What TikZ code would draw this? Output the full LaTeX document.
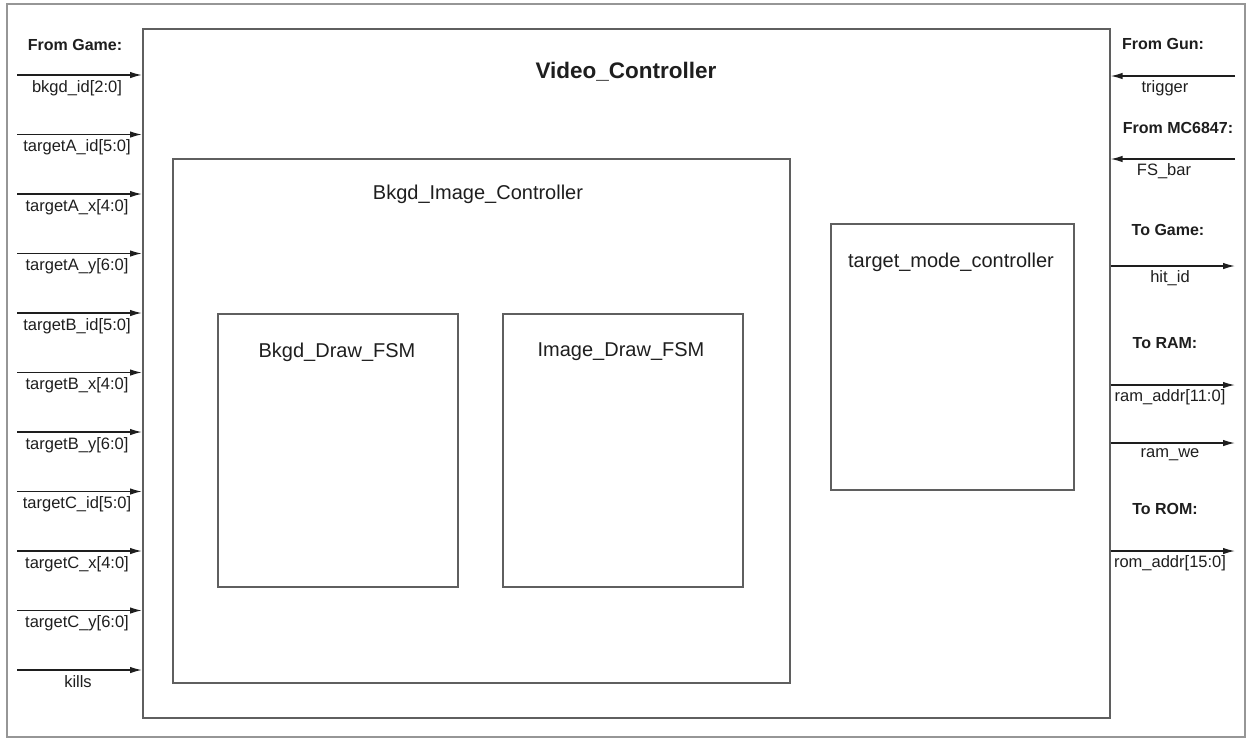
\documentclass[tikz,border=0pt]{standalone}
\usepackage{fontspec}
\setmainfont{Liberation Sans}
\usetikzlibrary{arrows.meta}

\definecolor{framegray}{RGB}{150,150,150}
\definecolor{boxgray}{RGB}{95,95,95}
\definecolor{inkgray}{RGB}{30,30,30}

\begin{document}
\begin{tikzpicture}[x=1pt,y=1pt,yscale=-1,xscale=1,
  blk/.style={draw=boxgray,line width=1.6pt,inner sep=0pt,anchor=north west},
  sig/.style={draw=inkgray,line width=1.4pt,-{Latex[length=12pt,width=6.5pt]}},
  siglbl/.style={inner sep=0.75pt,font=\fontsize{16.5}{18}\selectfont,text=inkgray},
  grplbl/.style={inner sep=0.75pt,font=\fontsize{16}{18}\selectfont\bfseries,text=inkgray},
  blklbl/.style={inner sep=0.75pt,font=\fontsize{20}{22}\selectfont,text=inkgray}]
\useasboundingbox (0,0) rectangle (1251,740);

%Shape: Rectangle [outer frame]
\draw [framegray,line width=1.2pt] (7,4) rectangle (1245,737) ;

%Shape: Rectangle [Video_Controller]
\node [blk,minimum width=967,minimum height=689] (vc) at (142,28) {};
%Shape: Rectangle [Bkgd_Image_Controller]
\node [blk,minimum width=617,minimum height=524] (bic) at (172,158) {};
%Shape: Rectangle [Bkgd_Draw_FSM]
\node [blk,minimum width=240,minimum height=273] (bdf) at (217,313) {};
%Shape: Rectangle [Image_Draw_FSM]
\node [blk,minimum width=240,minimum height=273] (idf) at (502,313) {};
%Shape: Rectangle [target_mode_controller]
\node [blk,minimum width=243,minimum height=266] (tmc) at (830,223) {};

% Text Node
\node [inner sep=0.75pt,font=\fontsize{22.5}{26}\selectfont\bfseries,text=inkgray] (vctxt) at (626,72) {Video\_Controller};
% Text Node
\node [blklbl] (bictxt) at (478,194) {Bkgd\_Image\_Controller};
% Text Node
\node [blklbl] (bdftxt) at (337,352) {Bkgd\_Draw\_FSM};
% Text Node
\node [blklbl] (idftxt) at (621,352) {Image\_Draw\_FSM};
% Text Node
\node [blklbl] (tmctxt) at (951,262) {target\_mode\_controller};

%Straight Lines [inputs from game]
\coordinate (bkgdid) at (17,75) ;
\coordinate (taid) at (17,134.5) ;
\coordinate (tax) at (17,194) ;
\coordinate (tay) at (17,253.5) ;
\coordinate (tbid) at (17,313) ;
\coordinate (tbx) at (17,372.5) ;
\coordinate (tby) at (17,432) ;
\coordinate (tcid) at (17,491.5) ;
\coordinate (tcx) at (17,551) ;
\coordinate (tcy) at (17,610.5) ;
\coordinate (kills) at (17,670) ;
\draw [sig] (bkgdid) -- (bkgdid -| vc.west) ;
\draw [sig] (taid) -- (taid -| vc.west) ;
\draw [sig] (tax) -- (tax -| vc.west) ;
\draw [sig] (tay) -- (tay -| vc.west) ;
\draw [sig] (tbid) -- (tbid -| vc.west) ;
\draw [sig] (tbx) -- (tbx -| vc.west) ;
\draw [sig] (tby) -- (tby -| vc.west) ;
\draw [sig] (tcid) -- (tcid -| vc.west) ;
\draw [sig] (tcx) -- (tcx -| vc.west) ;
\draw [sig] (tcy) -- (tcy -| vc.west) ;
\draw [sig] (kills) -- (kills -| vc.west) ;

% Text Node
\node [grplbl] (fromgame) at (75,45) {From Game:};
% Text Node
\node [siglbl] (bkgdidtxt) at (77,88) {bkgd\_id[2:0]};
% Text Node
\node [siglbl] (taidtxt) at (77,147.5) {targetA\_id[5:0]};
% Text Node
\node [siglbl] (taxtxt) at (77,207) {targetA\_x[4:0]};
% Text Node
\node [siglbl] (taytxt) at (77,266.5) {targetA\_y[6:0]};
% Text Node
\node [siglbl] (tbidtxt) at (77,326) {targetB\_id[5:0]};
% Text Node
\node [siglbl] (tbxtxt) at (77,385.5) {targetB\_x[4:0]};
% Text Node
\node [siglbl] (tbytxt) at (77,445) {targetB\_y[6:0]};
% Text Node
\node [siglbl] (tcidtxt) at (77,504.5) {targetC\_id[5:0]};
% Text Node
\node [siglbl] (tcxtxt) at (77,564) {targetC\_x[4:0]};
% Text Node
\node [siglbl] (tcytxt) at (77,623.5) {targetC\_y[6:0]};
% Text Node
\node [siglbl] (killstxt) at (78,682) {kills};

%Straight Lines [right side]
\coordinate (trigger) at (1235,76) ;
\coordinate (fsbar) at (1235,159) ;
\coordinate (hitid) at (1235,266) ;
\coordinate (ramaddr) at (1235,385) ;
\coordinate (ramwe) at (1235,443) ;
\coordinate (romaddr) at (1235,551) ;
\draw [sig] (trigger) -- (trigger -| vc.east) ;
\draw [sig] (fsbar) -- (fsbar -| vc.east) ;
\draw [sig] (hitid -| vc.east) -- (hitid) ;
\draw [sig] (ramaddr -| vc.east) -- (ramaddr) ;
\draw [sig] (ramwe -| vc.east) -- (ramwe) ;
\draw [sig] (romaddr -| vc.east) -- (romaddr) ;

% Text Node
\node [grplbl] (fromgun) at (1163,44) {From Gun:};
% Text Node
\node [siglbl] (triggertxt) at (1165,88) {trigger};
% Text Node
\node [grplbl] (frommc) at (1178,128) {From MC6847:};
% Text Node
\node [siglbl] (fsbartxt) at (1164,171) {FS\_bar};
% Text Node
\node [grplbl] (togame) at (1168,230) {To Game:};
% Text Node
\node [siglbl] (hitidtxt) at (1170,278) {hit\_id};
% Text Node
\node [grplbl] (toram) at (1165,343) {To RAM:};
% Text Node
\node [siglbl] (ramaddrtxt) at (1170,397) {ram\_addr[11:0]};
% Text Node
\node [siglbl] (ramwetxt) at (1170,455) {ram\_we};
% Text Node
\node [grplbl] (torom) at (1165,509) {To ROM:};
% Text Node
\node [siglbl] (romaddrtxt) at (1170,563) {rom\_addr[15:0]};

\end{tikzpicture}
\end{document}
